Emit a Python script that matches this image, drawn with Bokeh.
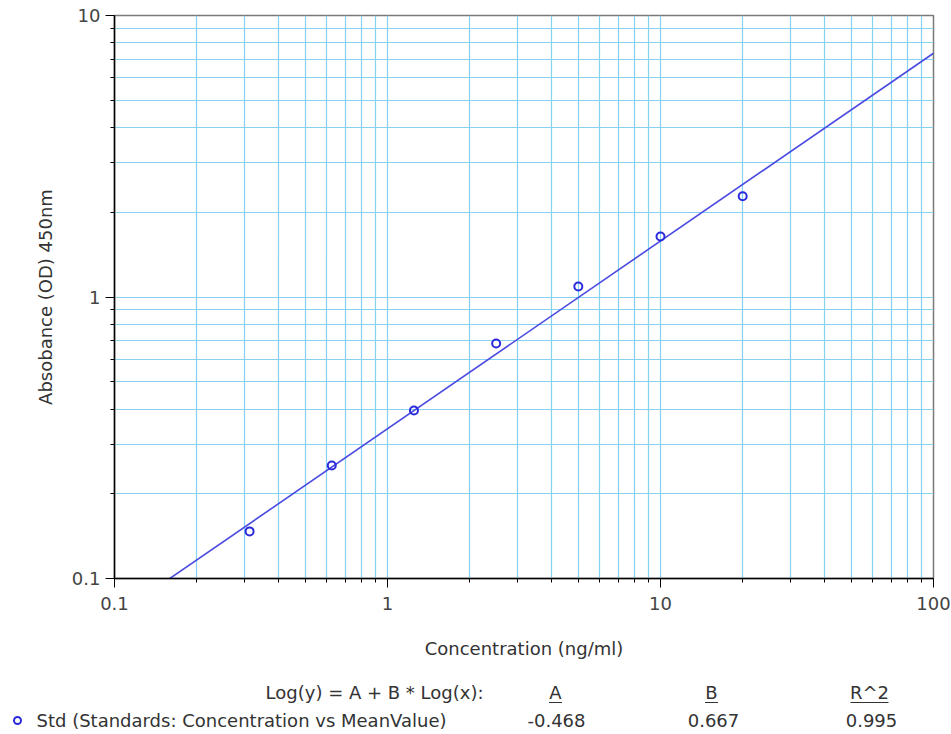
import numpy as np
from bokeh.plotting import figure
from bokeh.models import FixedTicker, Range1d, ColumnDataSource
from bokeh.embed import file_html
from bokeh.resources import INLINE
from bokeh.core.properties import value

# ---- data ----
concentration = [0.3125, 0.625, 1.25, 2.5, 5, 10, 20]
mean_value = [0.147, 0.252, 0.395, 0.684, 1.09, 1.64, 2.28]
fit_A = -0.468
fit_B = 0.667
fit_R2 = 0.995
x_major = [0.1, 1, 10, 100]
y_major = [0.1, 1, 10]
x_tick_labels = {0.1: "0.1", 1: "1", 10: "10", 100: "100"}
y_tick_labels = {0.1: "0.1", 1: "1", 10: "10"}
series_name = "Std (Standards: Concentration vs MeanValue)"
equation = "Log(y) = A + B * Log(x):"
header = ["A", "B", "R^2"]

FONT = "DejaVu Sans"
FS = "18px"
GRID = "#86d0f0"
TXT = "#333333"

def minors(majors):
    out = []
    for m in majors[:-1]:
        out += [m * k for k in range(2, 10)]
    return out

W = 951
H_MAIN = 665
H_BOT = 734 - H_MAIN

p = figure(width=W, height=H_MAIN, x_axis_type="log", y_axis_type="log",
           x_range=Range1d(0.1, 100), y_range=Range1d(0.1, 10),
           output_backend="svg", toolbar_location=None,
           min_border_left=114, min_border_right=18, min_border_top=15,
           min_border_bottom=87)
p.background_fill_color = "white"
p.border_fill_color = "white"
p.outline_line_color = "#7a7a7a"
p.outline_line_width = 1.5

p.xaxis.ticker = FixedTicker(ticks=x_major, minor_ticks=minors(x_major))
p.yaxis.ticker = FixedTicker(ticks=y_major, minor_ticks=minors(y_major))
p.xaxis.major_label_overrides = x_tick_labels
p.yaxis.major_label_overrides = y_tick_labels

for ax in (p.xaxis[0], p.yaxis[0]):
    ax.axis_line_color = "black"
    ax.axis_line_width = 1.5
    ax.major_tick_line_color = "black"
    ax.minor_tick_line_color = "black"
    ax.major_tick_out = 9
    ax.major_tick_in = 0
    ax.minor_tick_out = 4
    ax.minor_tick_in = 0
    ax.major_label_text_font = FONT
    ax.major_label_text_font_size = FS
    ax.major_label_text_color = "#444444"
    ax.axis_label_text_font = FONT
    ax.axis_label_text_font_size = FS
    ax.axis_label_text_font_style = "normal"
    ax.axis_label_text_color = TXT

p.xaxis.axis_label = "Concentration (ng/ml)"
p.yaxis.axis_label = "Absobance (OD) 450nm"
p.xaxis.major_label_standoff = 9
p.yaxis.major_label_standoff = 5
p.xaxis.axis_label_standoff = 25
p.yaxis.axis_label_standoff = 13

for g in (p.xgrid[0], p.ygrid[0]):
    g.grid_line_color = GRID
    g.grid_line_width = 1.2
    g.minor_grid_line_color = GRID
    g.minor_grid_line_width = 1.2

# fit line
x_fit = np.array([x_major[0], x_major[-1]])
y_fit = 10 ** (fit_A + fit_B * np.log10(x_fit))
p.line(x_fit, y_fit, line_color="#4a4ae0", line_width=1.6)

src = ColumnDataSource(dict(x=concentration, y=mean_value))
p.scatter("x", "y", source=src, marker="circle", size=8, fill_color=None,
          line_color="#2b2bdc", line_width=2)

# ---- bottom table: a separate root whose data units are page pixels ----
q = figure(width=W, height=H_BOT, x_range=Range1d(0, W), y_range=Range1d(H_BOT, 0),
           output_backend="svg", toolbar_location=None,
           min_border=0, min_border_left=0, min_border_right=0,
           min_border_top=0, min_border_bottom=0)
q.axis.visible = False
q.grid.visible = False
q.outline_line_color = None
q.background_fill_color = "white"
q.border_fill_color = "white"

row1 = 27
row2 = 55
q.text(x=[483], y=[row1], text=[equation], text_font=value(FONT), text_font_size=FS,
       text_color=TXT, text_align="right", text_baseline="middle")
hx = [555, 711, 869]
q.text(x=hx, y=[row1] * 3, text=header, text_font=value(FONT), text_font_size=FS,
       text_color=TXT, text_align="center", text_baseline="middle")
hw = [13, 13, 38]
q.segment(x0=[a - w / 2 for a, w in zip(hx, hw)], x1=[a + w / 2 for a, w in zip(hx, hw)],
          y0=[row1 + 10] * 3, y1=[row1 + 10] * 3, line_color=TXT, line_width=1)
vals = ["%.3f" % fit_A, "%.3f" % fit_B, "%.3f" % fit_R2]
q.text(x=[556, 713, 871], y=[row2] * 3, text=vals, text_font=value(FONT), text_font_size=FS,
       text_color=TXT, text_align="center", text_baseline="middle")
q.text(x=[36], y=[row2], text=[series_name], text_font=value(FONT), text_font_size=FS,
       text_color=TXT, text_align="left", text_baseline="middle")
q.scatter(x=[17], y=[row2], marker="circle", size=7, fill_color=None,
          line_color="#2b2bdc", line_width=2)

open("out.html", "w").write(file_html([p, q], INLINE))
